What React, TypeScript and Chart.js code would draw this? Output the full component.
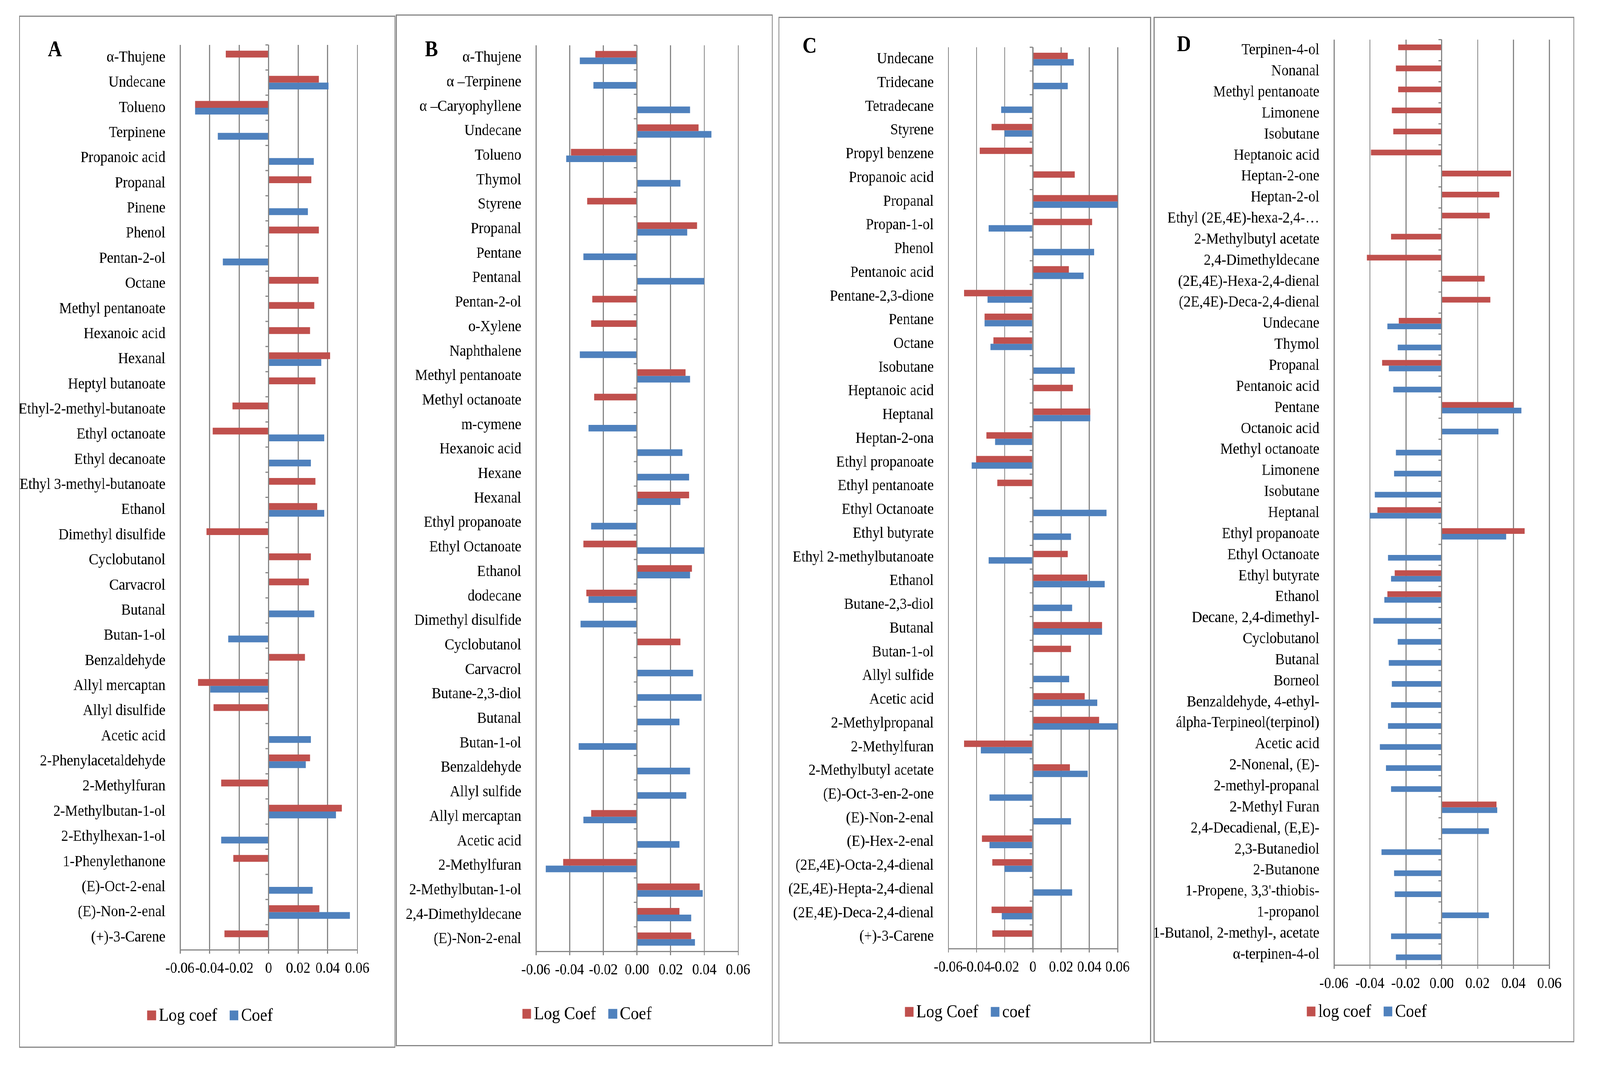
import React, { useEffect, useRef, useState } from 'react';
import { Chart, registerables } from 'chart.js';

Chart.register(...registerables);

const RED = '#C0504D';
const BLUE = '#4F81BD';
const GRID = '#878787';
const FONT = "'Liberation Serif', 'Times New Roman', serif";
const PAGE_W = 4613;
const PAGE_H = 2745;

// ---------- Panel A ----------
const labelsA = ['α-Thujene', 'Undecane', 'Tolueno', 'Terpinene', 'Propanoic acid', 'Propanal', 'Pinene', 'Phenol', 'Pentan-2-ol', 'Octane', 'Methyl pentanoate', 'Hexanoic acid', 'Hexanal', 'Heptyl butanoate', 'Ethyl-2-methyl-butanoate', 'Ethyl octanoate', 'Ethyl decanoate', 'Ethyl 3-methyl-butanoate', 'Ethanol', 'Dimethyl disulfide', 'Cyclobutanol', 'Carvacrol', 'Butanal', 'Butan-1-ol', 'Benzaldehyde', 'Allyl mercaptan', 'Allyl disulfide', 'Acetic acid', '2-Phenylacetaldehyde', '2-Methylfuran', '2-Methylbutan-1-ol', '2-Ethylhexan-1-ol', '1-Phenylethanone', '(E)-Oct-2-enal', '(E)-Non-2-enal', '(+)-3-Carene'];
const logCoefA = [-0.029, 0.034, -0.0498, null, null, 0.029, null, 0.034, null, 0.0338, 0.031, 0.028, 0.0417, 0.0317, -0.0245, -0.0378, null, 0.0317, 0.033, -0.042, 0.0285, 0.0273, null, null, 0.0247, -0.0478, -0.0373, null, 0.028, -0.032, 0.0497, null, -0.024, null, 0.0343, -0.0298];
const coefA = [null, 0.0405, -0.0498, -0.0345, 0.0305, null, 0.0267, null, -0.031, null, null, null, 0.0357, null, null, 0.0377, 0.0285, null, 0.0377, null, null, null, 0.031, -0.0273, null, -0.0395, null, 0.0285, 0.0252, null, 0.0457, -0.032, null, 0.0298, 0.055, null];

// ---------- Panel B ----------
const labelsB = ['α-Thujene', 'α –Terpinene', 'α –Caryophyllene', 'Undecane', 'Tolueno', 'Thymol', 'Styrene', 'Propanal', 'Pentane', 'Pentanal', 'Pentan-2-ol', 'o-Xylene', 'Naphthalene', 'Methyl pentanoate', 'Methyl octanoate', 'm-cymene', 'Hexanoic acid', 'Hexane', 'Hexanal', 'Ethyl propanoate', 'Ethyl Octanoate', 'Ethanol', 'dodecane', 'Dimethyl disulfide', 'Cyclobutanol', 'Carvacrol', 'Butane-2,3-diol', 'Butanal', 'Butan-1-ol', 'Benzaldehyde', 'Allyl sulfide', 'Allyl mercaptan', 'Acetic acid', '2-Methylfuran', '2-Methylbutan-1-ol', '2,4-Dimethyldecane', '(E)-Non-2-enal'];
const logCoefB = [-0.0248, null, null, 0.0366, -0.0393, null, -0.0295, 0.0356, null, null, -0.0266, -0.0272, null, 0.0288, -0.0254, null, null, null, 0.031, null, -0.0317, 0.0327, -0.030, null, 0.0258, null, null, null, null, null, null, -0.0272, null, -0.0438, 0.0372, 0.0253, 0.0321];
const coefB = [-0.034, -0.0258, 0.0315, 0.0442, -0.042, 0.0258, null, 0.0298, -0.0317, 0.040, null, null, -0.034, 0.0315, null, -0.0288, 0.027, 0.031, 0.0258, -0.0272, 0.040, 0.0315, -0.0288, -0.0334, null, 0.0333, 0.0384, 0.0253, -0.0346, 0.0315, 0.0293, -0.0317, 0.0253, -0.0542, 0.039, 0.0321, 0.0345];

// ---------- Panel C ----------
const labelsC = ['Undecane', 'Tridecane', 'Tetradecane', 'Styrene', 'Propyl benzene', 'Propanoic acid', 'Propanal', 'Propan-1-ol', 'Phenol', 'Pentanoic acid', 'Pentane-2,3-dione', 'Pentane', 'Octane', 'Isobutane', 'Heptanoic acid', 'Heptanal', 'Heptan-2-ona', 'Ethyl propanoate', 'Ethyl pentanoate', 'Ethyl Octanoate', 'Ethyl butyrate', 'Ethyl 2-methylbutanoate', 'Ethanol', 'Butane-2,3-diol', 'Butanal', 'Butan-1-ol', 'Allyl sulfide', 'Acetic acid', '2-Methylpropanal', '2-Methylfuran', '2-Methylbutyl acetate', '(E)-Oct-3-en-2-one', '(E)-Non-2-enal', '(E)-Hex-2-enal', '(2E,4E)-Octa-2,4-dienal', '(2E,4E)-Hepta-2,4-dienal', '(2E,4E)-Deca-2,4-dienal', '(+)-3-Carene'];
const logCoefC = [0.0247, null, null, -0.0294, -0.0376, 0.0296, 0.060, 0.042, null, 0.0254, -0.0488, -0.0343, -0.028, null, 0.0284, 0.0406, -0.0329, -0.0404, -0.0253, null, null, 0.0247, 0.0385, null, 0.049, 0.027, null, 0.0366, 0.0469, -0.0488, 0.0263, null, null, -0.0362, -0.0287, null, -0.0294, -0.0287];
const coefC = [0.029, 0.0247, -0.0225, -0.020, null, null, 0.060, -0.0315, 0.0434, 0.0359, -0.0322, -0.0343, -0.0301, 0.0296, null, 0.0406, -0.0267, -0.0434, null, 0.0523, 0.027, -0.0315, 0.0509, 0.0277, 0.049, null, 0.0256, 0.0455, 0.060, -0.0369, 0.0387, -0.0307, 0.027, -0.0307, -0.020, 0.0277, -0.022, null];

// ---------- Panel D ----------
const labelsD = ['Terpinen-4-ol', 'Nonanal', 'Methyl pentanoate', 'Limonene', 'Isobutane', 'Heptanoic acid', 'Heptan-2-one', 'Heptan-2-ol', 'Ethyl (2E,4E)-hexa-2,4-…', '2-Methylbutyl acetate', '2,4-Dimethyldecane', '(2E,4E)-Hexa-2,4-dienal', '(2E,4E)-Deca-2,4-dienal', 'Undecane', 'Thymol', 'Propanal', 'Pentanoic acid', 'Pentane', 'Octanoic acid', 'Methyl octanoate', 'Limonene', 'Isobutane', 'Heptanal', 'Ethyl propanoate', 'Ethyl Octanoate', 'Ethyl butyrate', 'Ethanol', 'Decane, 2,4-dimethyl-', 'Cyclobutanol', 'Butanal', 'Borneol', 'Benzaldehyde, 4-ethyl-', 'álpha-Terpineol(terpinol)', 'Acetic acid', '2-Nonenal, (E)-', '2-methyl-propanal', '2-Methyl Furan', '2,4-Decadienal, (E,E)-', '2,3-Butanediol', '2-Butanone', "1-Propene, 3,3'-thiobis-", '1-propanol', '1-Butanol, 2-methyl-, acetate', 'α-terpinen-4-ol'];
const logCoefD = [-0.0242, -0.0255, -0.0242, -0.0277, -0.027, -0.0394, 0.0386, 0.032, 0.0267, -0.0281, -0.0416, 0.024, 0.0272, -0.0239, null, -0.0331, null, 0.040, null, null, null, null, -0.0358, 0.0463, null, -0.0261, -0.0303, null, null, null, null, null, null, null, null, null, 0.0305, null, null, null, null, null, null, null];
const coefD = [null, null, null, null, null, null, null, null, null, null, null, null, null, -0.0303, -0.0244, -0.0294, -0.027, 0.0445, 0.0316, -0.0255, -0.0266, -0.0373, -0.040, 0.036, -0.0298, -0.0281, -0.032, -0.038, -0.0244, -0.0294, -0.0277, -0.0281, -0.0298, -0.0344, -0.031, -0.0281, 0.031, 0.0263, -0.0336, -0.0266, -0.0261, 0.0263, -0.0281, -0.0255];

// ---------- Tick labels & series names ----------
const ticksPlain = ['-0.06', '-0.04', '-0.02', '0', '0.02', '0.04', '0.06'];
const ticksFixed = ['-0.06', '-0.04', '-0.02', '0.00', '0.02', '0.04', '0.06'];
const seriesA = ['Log coef', 'Coef'];
const seriesB = ['Log Coef', 'Coef'];
const seriesC = ['Log Coef', 'coef'];
const seriesD = ['log coef', 'Coef'];

type Box = { x: number; y: number; w: number; h: number };
type Plot = { l: number; t: number; r: number; b: number };
type Spec = {
  letter: string;
  labels: string[];
  logCoef: (number | null)[];
  coef: (number | null)[];
  names: string[];
  ticks: string[];
  box: Box;
  plot: Plot;
  letterX: number;
  letterY: number;
  legendY: number;
};

const panels: Spec[] = [
  { letter: 'A', labels: labelsA, logCoef: logCoefA, coef: coefA, names: seriesA, ticks: ticksPlain,
    box: { x: 55, y: 40, w: 1085, h: 2643 }, plot: { l: 519, t: 115, r: 1030, b: 2432 }, letterX: 138, letterY: 144, legendY: 2600 },
  { letter: 'B', labels: labelsB, logCoef: logCoefB, coef: coefB, names: seriesB, ticks: ticksFixed,
    box: { x: 1141, y: 37, w: 1087, h: 2642 }, plot: { l: 1545, t: 116, r: 2128, b: 2436 }, letterX: 1225, letterY: 144, legendY: 2596 },
  { letter: 'C', labels: labelsC, logCoef: logCoefC, coef: coefC, names: seriesC, ticks: ticksPlain,
    box: { x: 2244, y: 43, w: 1075, h: 2629 }, plot: { l: 2734, t: 121, r: 3222, b: 2429 }, letterX: 2314, letterY: 135, legendY: 2591 },
  { letter: 'D', labels: labelsD, logCoef: logCoefD, coef: coefD, names: seriesD, ticks: ticksFixed,
    box: { x: 3326, y: 43, w: 1213, h: 2626 }, plot: { l: 3846, t: 94, r: 4467, b: 2471 }, letterX: 3393, letterY: 131, legendY: 2590 },
];

function Panel({ spec }: { spec: Spec }) {
  const ref = useRef<HTMLCanvasElement | null>(null);
  useEffect(() => {
    if (!ref.current) return;
    const { box, plot } = spec;
    const decor = {
      id: 'decor',
      afterDatasetsDraw(chart: any) {
        const ctx = chart.ctx;
        const area = chart.chartArea;
        const xs = chart.scales.x;
        const x0 = xs.getPixelForValue(0);
        const n = spec.labels.length;
        const step = (area.bottom - area.top) / n;
        ctx.save();
        ctx.strokeStyle = GRID;
        ctx.lineWidth = 3;
        ctx.beginPath();
        ctx.moveTo(x0, area.top);
        ctx.lineTo(x0, area.bottom);
        for (let k = 0; k <= n; k++) {
          const yy = area.top + k * step;
          ctx.moveTo(x0 - 9, yy);
          ctx.lineTo(x0, yy);
        }
        ctx.stroke();
        ctx.restore();
      },
      afterDraw(chart: any) {
        const ctx = chart.ctx;
        ctx.save();
        ctx.strokeStyle = GRID;
        ctx.lineWidth = 3;
        ctx.strokeRect(1.5, 1.5, box.w - 3, box.h - 3);
        ctx.fillStyle = '#000';
        ctx.font = `bold 56px ${FONT}`;
        ctx.textAlign = 'left';
        ctx.textBaseline = 'alphabetic';
        ctx.fillText(spec.letter, spec.letterX - box.x, spec.letterY - box.y);
        ctx.font = `47px ${FONT}`;
        ctx.textBaseline = 'middle';
        const sq = 25, gap = 8, itemGap = 36;
        const items = chart.data.datasets.map((d: any) => ({ text: d.label, color: d.backgroundColor }));
        let total = 0;
        items.forEach((it: any, i: number) => {
          total += sq + gap + ctx.measureText(it.text).width + (i < items.length - 1 ? itemGap : 0);
        });
        let x = box.w / 2 + 8 - total / 2;
        const cy = spec.legendY - box.y;
        items.forEach((it: any) => {
          ctx.fillStyle = it.color;
          ctx.fillRect(x, cy - sq / 2, sq, sq);
          x += sq + gap;
          ctx.fillStyle = '#000';
          ctx.fillText(it.text, x, cy + 2);
          x += ctx.measureText(it.text).width + itemGap;
        });
        ctx.restore();
      },
    };
    const chart = new Chart(ref.current, {
      type: 'bar',
      data: {
        labels: spec.labels,
        datasets: [
          { label: spec.names[0], data: spec.logCoef as any, backgroundColor: RED, categoryPercentage: 0.54, barPercentage: 1 },
          { label: spec.names[1], data: spec.coef as any, backgroundColor: BLUE, categoryPercentage: 0.54, barPercentage: 1 },
        ],
      },
      options: {
        indexAxis: 'y',
        animation: false,
        responsive: false,
        devicePixelRatio: 1,
        layout: { padding: { top: plot.t - box.y, right: box.x + box.w - plot.r, bottom: 0, left: 0 } },
        plugins: { legend: { display: false }, tooltip: { enabled: false }, title: { display: false } },
        scales: {
          x: {
            type: 'linear',
            min: -0.06,
            max: 0.06,
            ticks: {
              stepSize: 0.02,
              autoSkip: false,
              maxRotation: 0,
              minRotation: 0,
              padding: 14,
              color: '#000',
              font: { family: FONT, size: 40 },
              callback: (v: any, i: number) => spec.ticks[i] ?? String(v),
            },
            grid: { color: GRID, lineWidth: 3, tickLength: 10, drawTicks: true },
            border: { display: true, color: GRID, width: 3 },
            afterFit: (s: any) => { s.height = box.y + box.h - plot.b; },
          },
          y: {
            type: 'category',
            ticks: { autoSkip: false, padding: 34, color: '#000', font: { family: FONT, size: 41 } },
            grid: { display: false },
            border: { display: false },
            afterFit: (s: any) => { s.width = plot.l - box.x; },
          },
        },
      } as any,
      plugins: [decor],
    });
    return () => chart.destroy();
  }, [spec]);
  const { box } = spec;
  return (
    <canvas
      ref={ref}
      width={box.w}
      height={box.h}
      style={{ position: 'absolute', left: box.x, top: box.y, width: box.w, height: box.h }}
    />
  );
}

function viewport() {
  const w = window.innerWidth || document.documentElement.clientWidth || PAGE_W;
  const h = window.innerHeight || document.documentElement.clientHeight || PAGE_H;
  return { sx: w / PAGE_W, sy: h / PAGE_H };
}

export default function App() {
  const [scale, setScale] = useState(viewport());
  useEffect(() => {
    const onResize = () => setScale(viewport());
    window.addEventListener('resize', onResize);
    return () => window.removeEventListener('resize', onResize);
  }, []);
  return (
    <div
      style={{
        position: 'fixed',
        left: 0,
        top: 0,
        width: PAGE_W,
        height: PAGE_H,
        background: '#fff',
        overflow: 'hidden',
        transformOrigin: '0 0',
        transform: `scale(${scale.sx}, ${scale.sy})`,
      }}
    >
      {panels.map((p) => (
        <Panel key={p.letter} spec={p} />
      ))}
    </div>
  );
}
